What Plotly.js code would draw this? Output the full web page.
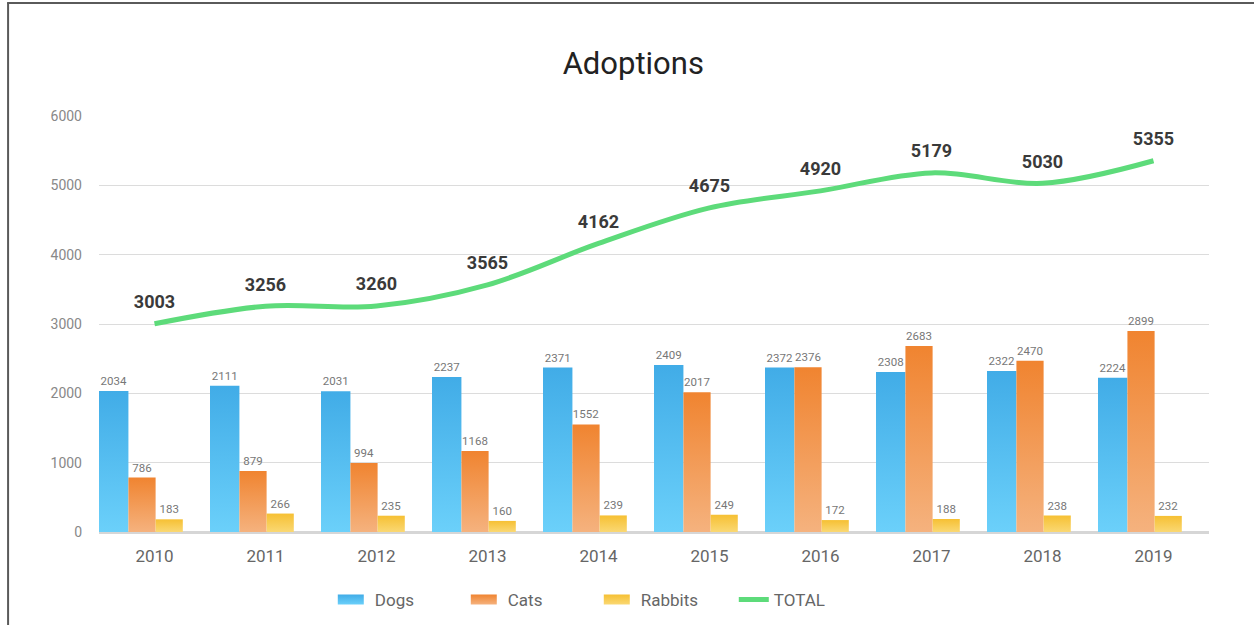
<!DOCTYPE html>
<html>
<head>
<meta charset="utf-8">
<script src="https://cdn.plot.ly/plotly-3.0.1.min.js"></script>
<style>
html,body{margin:0;padding:0;background:#fff;}
#chart{width:1254px;height:625px;}
</style>
</head>
<body>
<svg width="0" height="0" style="position:absolute">
  <defs>
    <linearGradient id="gDogs" x1="0" y1="0" x2="0" y2="1">
      <stop offset="0" stop-color="#41ace7"/>
      <stop offset="1" stop-color="#6bd0fa"/>
    </linearGradient>
    <linearGradient id="gCats" x1="0" y1="0" x2="0" y2="1">
      <stop offset="0" stop-color="#f08430"/>
      <stop offset="1" stop-color="#f5b27e"/>
    </linearGradient>
    <linearGradient id="gRabbits" x1="0" y1="0" x2="0" y2="1">
      <stop offset="0" stop-color="#f6c033"/>
      <stop offset="1" stop-color="#fad873"/>
    </linearGradient>
  </defs>
</svg>
<div id="chart"></div>
<script>
const years = ['2010','2011','2012','2013','2014','2015','2016','2017','2018','2019'];
const dogs = [2034, 2111, 2031, 2237, 2371, 2409, 2372, 2308, 2322, 2224];
const cats = [786, 879, 994, 1168, 1552, 2017, 2376, 2683, 2470, 2899];
const rabbits = [183, 266, 235, 160, 239, 249, 172, 188, 238, 232];
const total = [3003, 3256, 3260, 3565, 4162, 4675, 4920, 5179, 5030, 5355];
const yTicks = [0, 1000, 2000, 3000, 4000, 5000, 6000];

const FONT = 'Roboto, "Noto Sans", sans-serif';
const barLabelFont = {family: FONT, size: 11.5, color: '#777'};

function barTrace(name, vals, color, offset, width) {
  return {
    type: 'bar', name: name, x: years, y: vals,
    marker: {color: color, line: {width: 0}},
    offset: offset, width: width,
    text: vals.map(String), textposition: 'outside',
    textfont: barLabelFont, cliponaxis: false,
    hoverinfo: 'skip'
  };
}

const traces = [
  barTrace('Dogs', dogs, '#55bff0', -0.5, 0.265),
  barTrace('Cats', cats, '#f39a55', -0.235, 0.245),
  barTrace('Rabbits', rabbits, '#f8ca50', 0.01, 0.245),
  {
    type: 'scatter', mode: 'lines+markers+text', name: 'TOTAL', x: years, y: total,
    line: {color: '#5ddb7a', width: 5, shape: 'spline', smoothing: 1},
    marker: {size: 16, color: 'rgba(0,0,0,0)', line: {width: 0}},
    text: total.map(String), textposition: 'top center',
    textfont: {family: FONT, size: 18, color: '#3a3a3a', weight: 'bold'},
    cliponaxis: false, hoverinfo: 'skip'
  }
];

const pxL = 98.5, pxR = 1209.5, pxT = 116, pxB = 532;
const pw = pxR - pxL, ph = pxB - pxT;
const border = '#5a5a5a';

const layout = {
  width: 1254, height: 625,
  paper_bgcolor: '#fff', plot_bgcolor: '#fff',
  margin: {l: pxL, r: 1254 - pxR, t: pxT, b: 625 - pxB, pad: 0, autoexpand: false},
  title: {text: 'Adoptions', x: 0.505, xanchor: 'center', y: 1 - 63/625, yanchor: 'middle',
          font: {family: FONT, size: 31, color: '#222'}},
  barmode: 'group',
  showlegend: true,
  legend: {orientation: 'h', x: (334.5 - pxL)/pw, xanchor: 'left', y: -(600 - pxB)/ph, yanchor: 'middle',
           font: {family: FONT, size: 17, color: '#666'}, traceorder: 'normal',
           entrywidth: 88, entrywidthmode: 'pixels', itemwidth: 30},
  xaxis: {type: 'category', showgrid: false, showline: false, ticks: '',
          tickfont: {family: FONT, size: 17, color: '#666'}, ticklabelstandoff: 12,
          range: [-0.5, 9.5], fixedrange: true},
  yaxis: {range: [0, 6000], tickvals: yTicks, ticktext: yTicks.map(String),
          showgrid: true, gridcolor: '#dcdcdc', gridwidth: 1,
          zeroline: true, zerolinecolor: '#d6d6d6', zerolinewidth: 3,
          showline: false, ticks: '', ticklabelstandoff: 16,
          tickfont: {family: FONT, size: 14, color: '#888'}, fixedrange: true},
  shapes: [
    {type: 'line', xref: 'paper', yref: 'paper',
     x0: (7.5 - pxL)/pw, x1: (7.5 - pxL)/pw, y0: -(625 - pxB)/ph - 0.05, y1: 1 + (pxT - 3)/ph,
     line: {color: border, width: 2}},
    {type: 'line', xref: 'paper', yref: 'paper',
     x0: (6.5 - pxL)/pw, x1: (1260 - pxL)/pw, y0: 1 + (pxT - 3)/ph, y1: 1 + (pxT - 3)/ph,
     line: {color: border, width: 2}}
  ]
};

const gradIds = ['gDogs', 'gCats', 'gRabbits'];
function applyGradients(gd) {
  const barTraces = gd.querySelectorAll('.barlayer .trace');
  barTraces.forEach((t, i) => {
    t.querySelectorAll('.point path').forEach(p => { p.style.fill = 'url(#' + gradIds[i] + ')'; });
  });
  const legItems = gd.querySelectorAll('.legend .traces');
  legItems.forEach((li, i) => {
    if (i < 3) {
      li.querySelectorAll('path.legendbar, .legendpoints path').forEach(p => {
        p.setAttribute('d', 'M9,5H-17V-5H9Z');
        p.style.fill = 'url(#' + gradIds[i] + ')';
        p.style.stroke = 'none';
      });
    }
  });
}

const gd = document.getElementById('chart');
Plotly.newPlot(gd, traces, layout, {displayModeBar: false, staticPlot: true}).then(() => {
  applyGradients(gd);
  gd.on('plotly_afterplot', () => applyGradients(gd));
});
</script>
</body>
</html>
